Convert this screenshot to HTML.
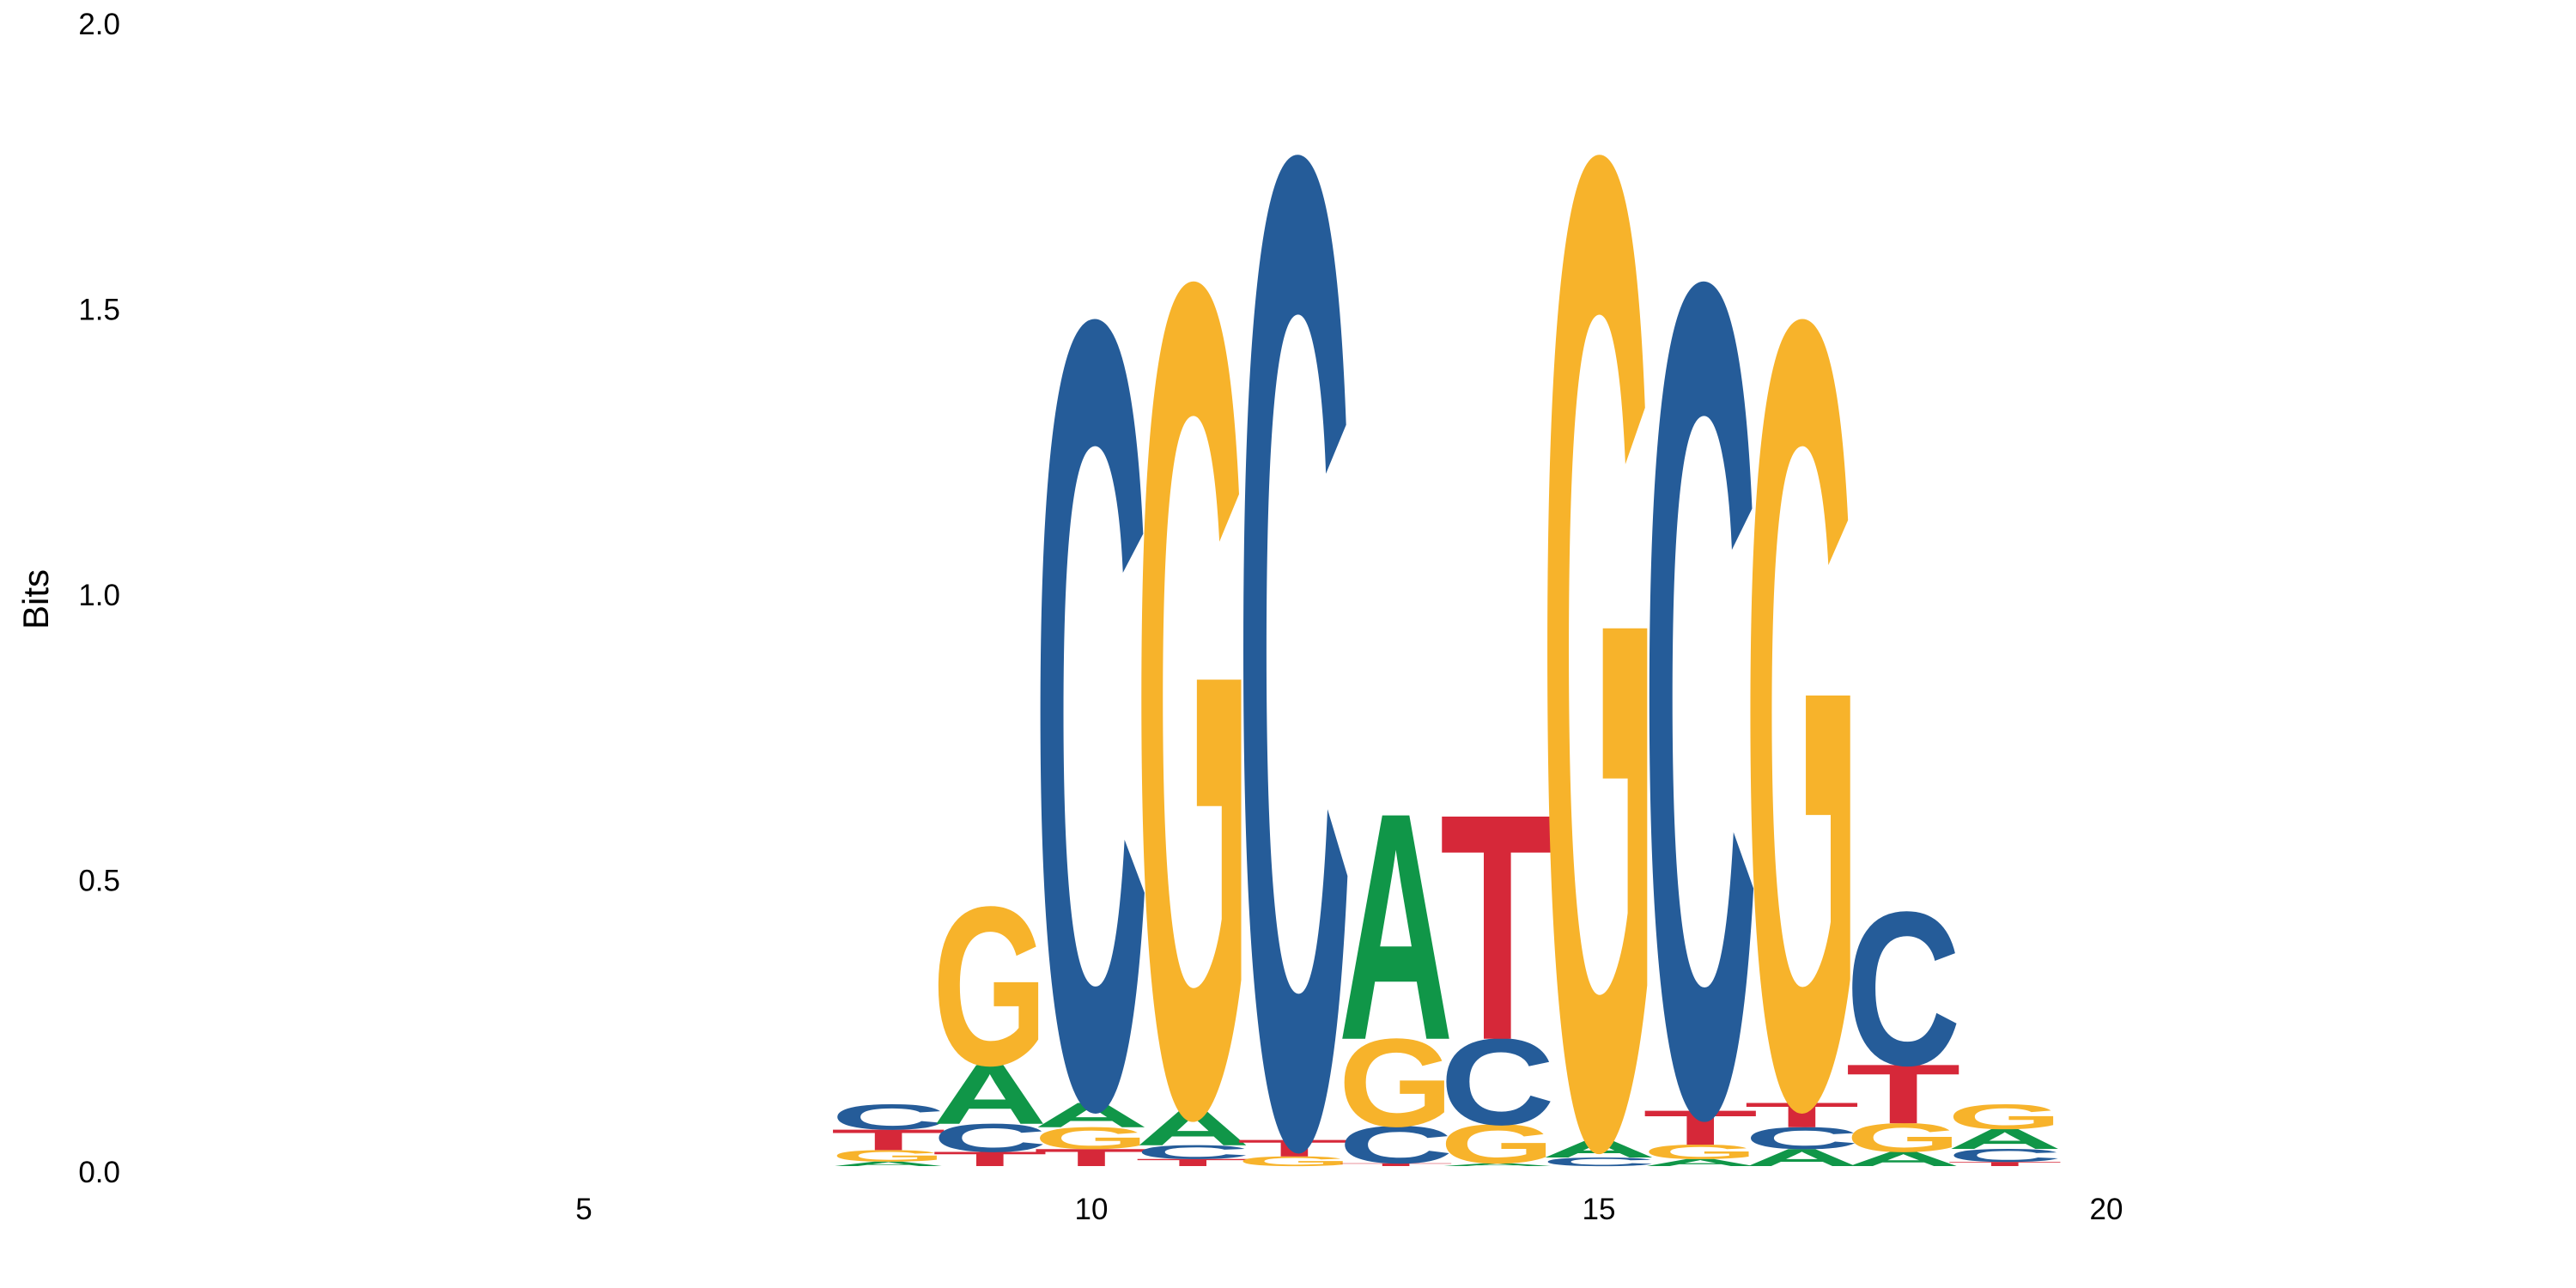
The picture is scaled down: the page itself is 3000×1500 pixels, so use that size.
<!DOCTYPE html>
<html><head><meta charset="utf-8"><style>
html,body{margin:0;padding:0;background:#fff;overflow:hidden;width:3000px;height:1500px}
svg{display:block}
</style></head><body>
<svg id="chart" width="3000" height="1500" viewBox="0 0 3000 1500" xmlns="http://www.w3.org/2000/svg" font-family="'Liberation Sans', sans-serif" overflow="hidden">
<defs><clipPath id="plotclip"><rect x="0" y="0" width="3000" height="1375"/></clipPath></defs>
<g id="yaxis"></g>
<g id="xaxis"></g>
<g id="logo" clip-path="url(#plotclip)"></g>
<text x="0" y="0" transform="translate(56,698) rotate(-90)" text-anchor="middle" font-size="42" fill="#000">Bits</text>
</svg>
<script>
const positions = [8,9,10,11,12,13,14,15,16,17,18,19];
// letters bottom-to-top per position, with heights in bits
const stackLetters = [
  ['A','G','T','C'],
  ['T','C','A','G'],
  ['T','G','A','C'],
  ['T','C','A','G'],
  ['G','T','C'],
  ['T','C','G','A'],
  ['A','G','C','T'],
  ['C','A','G'],
  ['A','G','T','C'],
  ['A','C','T','G'],
  ['A','G','T','C'],
  ['T','C','A','G']
];
const stackHeights = [
  [0.008,0.02,0.036,0.044],
  [0.025,0.049,0.104,0.276],
  [0.030,0.038,0.043,1.366],
  [0.0125,0.024,0.061,1.445],
  [0.017,0.029,1.717],
  [0.005,0.065,0.153,0.395],
  [0.005,0.068,0.150,0.393],
  [0.015,0.030,1.718],
  [0.0125,0.025,0.060,1.445],
  [0.030,0.038,0.043,1.366],
  [0.025,0.050,0.103,0.267],
  [0.0075,0.0225,0.035,0.043]
];
const yTicks = [0,0.5,1,1.5,2];
const yTickLabels = ['0.0','0.5','1.0','1.5','2.0'];
const xTicks = [5,10,15,20];

const NS = 'http://www.w3.org/2000/svg';
const colors = {A:'#109648',C:'#255C99',G:'#F7B32B',T:'#D62839'};
const baseY = 1358, pxPerBit = 665;
function yScale(v){ return baseY - v*pxPerBit; }
function xCenter(p){ return 680 + (p-5)*118.2; }
const colW = 134;

const yaxis = document.getElementById('yaxis');
yTicks.forEach((v,i)=>{
  const t = document.createElementNS(NS,'text');
  
  
  t.setAttribute('x',140);
  t.setAttribute('y',yScale(v)+ (i===0?19:12));
  t.setAttribute('text-anchor','end');
  t.setAttribute('font-size','35');
  t.textContent = yTickLabels[i];
  yaxis.appendChild(t);
});
const xaxis = document.getElementById('xaxis');
xTicks.forEach(p=>{
  const t = document.createElementNS(NS,'text');
  
  
  t.setAttribute('x',xCenter(p));
  t.setAttribute('y',1420);
  t.setAttribute('text-anchor','middle');
  t.setAttribute('font-size','35');
  t.textContent = String(p);
  xaxis.appendChild(t);
});
const logo = document.getElementById('logo');
positions.forEach((p,i)=>{
  let cum = 0;
  const x0 = xCenter(p) - colW/2;
  stackLetters[i].forEach((L,j)=>{
    const h = stackHeights[i][j];
    const bottom = yScale(cum);
    const hp = h*pxPerBit;
    cum += h;
    const t = document.createElementNS(NS,'text');
    
    
    t.setAttribute('x',0);
    t.setAttribute('y',0);
    t.setAttribute('font-size','100');
    t.setAttribute('font-weight','bold');
    t.setAttribute('fill',colors[L]);
    t.setAttribute('textLength',colW);
    t.setAttribute('lengthAdjust','spacingAndGlyphs');
    t.setAttribute('transform','translate('+x0+','+bottom+') scale(1,'+(hp/69.5)+')');
    t.textContent = L;
    logo.appendChild(t);
  });
});
</script>
</body></html>
